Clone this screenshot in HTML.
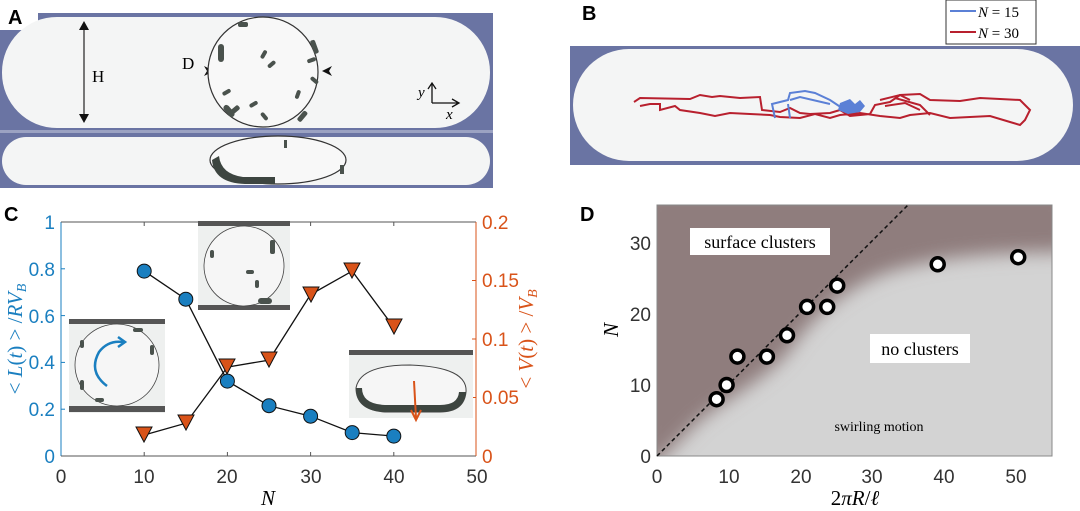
<!DOCTYPE html>
<html><head><meta charset="utf-8"><style>
html,body{margin:0;padding:0;background:#fff}
svg{display:block}
text{font-family:"Liberation Sans",sans-serif}
.s{font-family:"Liberation Serif",serif}
</style></head><body>
<svg width="1080" height="511" viewBox="0 0 1080 511" xmlns="http://www.w3.org/2000/svg">
<defs>
<filter id="bl" x="-20%" y="-20%" width="140%" height="140%"><feGaussianBlur stdDeviation="9"/></filter>
<clipPath id="cd"><rect x="657" y="205" width="395" height="251"/></clipPath>
</defs>
<!-- Panel A -->
<rect x="0" y="13" width="493" height="175" fill="#6a74a3"/>
<rect x="0" y="0" width="38" height="30" fill="#fff"/>
<text x="8" y="24" font-size="20" font-weight="bold">A</text>
<rect x="2" y="17" width="488" height="111" rx="55" fill="#f4f5f5"/>
<rect x="0" y="130" width="493" height="3" fill="#9ba2c2"/>
<rect x="2" y="137" width="488" height="48" rx="24" fill="#f4f5f5"/>
<line x1="84" y1="24" x2="84" y2="120" stroke="#222" stroke-width="1.2"/>
<path d="M79 30 L84 21 L89 30 Z M79 114 L84 123 L89 114 Z" fill="#111"/>
<text x="92" y="82" class="s" font-size="17">H</text>
<text x="182" y="69" class="s" font-size="17">D</text>
<path d="M204 66 L214 71 L204 76 L207 71Z M332 66 L322 71 L332 76 L329 71Z" fill="#111"/>
<circle cx="263" cy="72" r="55" fill="#f8f8f8" stroke="#333" stroke-width="1.2"/>
<g fill="#4a524d">
<rect x="262" y="50" width="4" height="9" rx="2" transform="rotate(30 264 54)"/>
<rect x="270" y="60" width="4" height="9" rx="2" transform="rotate(50 272 64)"/>
<rect x="310" y="56" width="4" height="9" rx="2" transform="rotate(70 312 60)"/>
<rect x="225" y="88" width="4" height="9" rx="2" transform="rotate(60 227 92)"/>
<rect x="296" y="90" width="4" height="9" rx="2" transform="rotate(20 298 94)"/>
<rect x="252" y="100" width="4" height="9" rx="2" transform="rotate(60 254 104)"/>
<rect x="262" y="112" width="4" height="9" rx="2" transform="rotate(-40 264 116)"/>
<rect x="232" y="104" width="5" height="12" rx="2" transform="rotate(50 234 110)"/>
<rect x="218" y="44" width="6" height="18" rx="3"/>
<rect x="312" y="40" width="5" height="14" rx="2" transform="rotate(-20 314 47)"/>
<rect x="300" y="110" width="5" height="12" rx="2" transform="rotate(40 302 116)"/>
<rect x="238" y="22" width="10" height="5" rx="2"/>
<rect x="312" y="76" width="4" height="9" rx="2" transform="rotate(-50 314 80)"/>
<rect x="226" y="104" width="6" height="14" rx="3" transform="rotate(-40 229 111)"/>
</g>
<ellipse cx="278" cy="160" rx="68" ry="24" fill="#f8f8f8" stroke="#333" stroke-width="1.2"/>
<path d="M212 160 Q214 183 245 184 L275 184 L275 177 L243 177 Q221 174 219 156 Z" fill="#3d4540"/>
<rect x="284" y="140" width="3" height="8" fill="#4a524d"/>
<rect x="340" y="165" width="4" height="9" fill="#4a524d"/>
<text x="418" y="97" class="s" font-style="italic" font-size="15">y</text>
<path d="M432 103 L432 84 M428 89 L432 83 L436 89 M432 103 L458 103 M452 99 L459 103 L452 107" stroke="#111" stroke-width="1.3" fill="none"/>
<text x="446" y="119" class="s" font-style="italic" font-size="15">x</text>

<!-- Panel B -->
<text x="582" y="20" font-size="20" font-weight="bold">B</text>
<rect x="946" y="0" width="90" height="44" fill="#fff" stroke="#333"/>
<line x1="950" y1="11" x2="976" y2="11" stroke="#5b80d6" stroke-width="2"/>
<line x1="950" y1="32" x2="976" y2="32" stroke="#b8202e" stroke-width="2"/>
<text x="978" y="17" class="s" font-size="15"><tspan font-style="italic">N</tspan> = 15</text>
<text x="978" y="38" class="s" font-size="15"><tspan font-style="italic">N</tspan> = 30</text>
<rect x="570" y="46" width="510" height="119" fill="#6a74a3"/>
<rect x="573" y="49" width="500" height="112" rx="56" fill="#f4f5f5"/>
<path d="M634 102 L640 98 L690 99 L700 95 L712 97 L720 96 L740 98 L760 97 L762 110 L780 112 L790 108 L800 113 L810 114 L830 113 L840 110 L850 116 L870 114 L875 105 L890 102 L900 95 L920 94 L930 100 L960 101 L980 98 L1000 99 L1020 100 L1030 110 L1025 120 L1020 125 L1010 122 L990 116 L970 117 L950 118 L930 113 L910 115 L900 118 L880 116 L860 113 L840 115 L830 118 L815 114 L800 118 L780 117 L770 115 L750 114 L730 113 L715 116 L700 113 L680 110 L675 106 L660 110 L660 104 L650 104 L640 106" fill="none" stroke="#b8202e" stroke-width="2"/>
<path d="M895 98 L920 105 L930 115 M880 100 L900 95 L910 100 M885 106 L905 103 L920 110" fill="none" stroke="#b8202e" stroke-width="2"/>
<path d="M775 118 L772 104 L788 100 L790 93 L805 91 L815 93 L830 100 L842 108 M790 100 L800 97 L830 104 M788 104 L790 118" fill="none" stroke="#5b80d6" stroke-width="2"/>
<path d="M840 103 L850 99 L855 104 L860 100 L865 106 L860 112 L848 114 L838 110 Z" fill="#5b80d6"/>

<!-- Panel C -->
<text x="4" y="221" font-size="20" font-weight="bold">C</text>
<line x1="61" y1="222" x2="61" y2="456" stroke="#1a7fc0"/>
<line x1="61" y1="456" x2="476" y2="456" stroke="#555"/>
<line x1="61" y1="222" x2="476" y2="222" stroke="#555"/>
<line x1="476" y1="222" x2="476" y2="456" stroke="#d95319"/>
<g stroke="#555"><line x1="144.2" y1="456" x2="144.2" y2="452"/><line x1="227.4" y1="456" x2="227.4" y2="452"/><line x1="310.6" y1="456" x2="310.6" y2="452"/><line x1="393.8" y1="456" x2="393.8" y2="452"/>
<line x1="144.2" y1="222" x2="144.2" y2="226"/><line x1="227.4" y1="222" x2="227.4" y2="226"/><line x1="310.6" y1="222" x2="310.6" y2="226"/><line x1="393.8" y1="222" x2="393.8" y2="226"/></g>
<g stroke="#1a7fc0"><line x1="61" y1="409.2" x2="65" y2="409.2"/><line x1="61" y1="362.4" x2="65" y2="362.4"/><line x1="61" y1="315.6" x2="65" y2="315.6"/><line x1="61" y1="268.8" x2="65" y2="268.8"/></g>
<g stroke="#d95319"><line x1="476" y1="397.5" x2="472" y2="397.5"/><line x1="476" y1="339" x2="472" y2="339"/><line x1="476" y1="280.5" x2="472" y2="280.5"/></g>
<g font-size="19" fill="#1a7fc0" text-anchor="end">
<text x="55" y="463">0</text><text x="55" y="416">0.2</text><text x="55" y="369">0.4</text><text x="55" y="323">0.6</text><text x="55" y="276">0.8</text><text x="55" y="229">1</text></g>
<g font-size="19" fill="#d95319"><text x="482" y="463">0</text><text x="482" y="404">0.05</text><text x="482" y="346">0.1</text><text x="482" y="287">0.15</text><text x="482" y="229">0.2</text></g>
<g font-size="19" fill="#333" text-anchor="middle"><text x="61" y="483">0</text><text x="144" y="483">10</text><text x="227" y="483">20</text><text x="311" y="483">30</text><text x="394" y="483">40</text><text x="477" y="483">50</text></g>
<text x="268" y="505" class="s" font-size="21" font-style="italic" text-anchor="middle">N</text>
<text transform="translate(22 339) rotate(-90)" class="s" font-size="21" fill="#1a7fc0" text-anchor="middle">&lt; <tspan font-style="italic">L</tspan>(<tspan font-style="italic">t</tspan>) &gt; /<tspan font-style="italic">RV<tspan font-size="14" dy="4">B</tspan></tspan></text>
<text transform="translate(533 339) rotate(-90)" class="s" font-size="21" fill="#d95319" text-anchor="middle">&lt; <tspan font-style="italic">V</tspan>(<tspan font-style="italic">t</tspan>) &gt; /<tspan font-style="italic">V<tspan font-size="14" dy="4">B</tspan></tspan></text>
<!-- insets -->
<rect x="69" y="320" width="96" height="93" fill="#eef0ef"/>
<rect x="69" y="319" width="96" height="5" fill="#555"/><rect x="69" y="406" width="96" height="6" fill="#555"/>
<ellipse cx="117" cy="365" rx="42" ry="41" fill="#f6f6f6" stroke="#444" stroke-width="0.8"/>
<g fill="#4a524d"><rect x="133" y="328" width="10" height="4" rx="2"/><rect x="150" y="345" width="4" height="10" rx="2"/><rect x="80" y="380" width="4" height="10" rx="2"/><rect x="95" y="398" width="9" height="4" rx="2"/><rect x="80" y="340" width="4" height="8" rx="2"/></g>
<path d="M107 386 Q88 372 99 352 Q108 340 123 342" fill="none" stroke="#1a7fc0" stroke-width="2.5"/><path d="M118 337 L125 342 L118 347" fill="none" stroke="#1a7fc0" stroke-width="2.5"/>
<rect x="198" y="223" width="92" height="86" fill="#eef0ef"/>
<rect x="198" y="221" width="92" height="5" fill="#555"/><rect x="198" y="305" width="92" height="5" fill="#555"/>
<ellipse cx="244" cy="266" rx="40" ry="40" fill="#f6f6f6" stroke="#444" stroke-width="0.8" transform="rotate(-20 244 266)"/>
<g fill="#4a524d"><rect x="210" y="250" width="4" height="8" rx="2"/><rect x="246" y="270" width="8" height="4" rx="2"/><rect x="255" y="280" width="4" height="8" rx="2"/><rect x="258" y="298" width="14" height="6" rx="3"/><rect x="270" y="240" width="5" height="14" rx="2"/></g>
<rect x="349" y="352" width="124" height="66" fill="#eef0ef"/>
<rect x="349" y="350" width="124" height="5" fill="#555"/>
<path d="M356 388 Q360 365 410 365 Q468 367 466 392 Q464 412 440 412 L385 412 Q356 410 356 388Z" fill="#f6f6f6" stroke="#444" stroke-width="1"/>
<path d="M356 388 Q356 411 385 412 L440 412 Q464 412 466 392 L459 392 Q458 405 440 405 L385 405 Q362 404 362 388 Z" fill="#3d4540"/>
<path d="M414 381 L416 418 M411 410 L416 420 L421 410" fill="none" stroke="#d95319" stroke-width="2"/>
<!-- series -->
<polyline points="144.2,435 185.8,423.2 227.4,367.1 269,360.1 310.6,294.5 352.2,271.1 393.8,327.3" fill="none" stroke="#111" stroke-width="1.3"/>
<g fill="#d95319" stroke="#111" stroke-width="1">
<path d="M136 427 L152 427 L144 442Z"/><path d="M178 415 L194 415 L186 430Z"/><path d="M219 359 L235 359 L227 374Z"/><path d="M261 352 L277 352 L269 367Z"/><path d="M303 287 L319 287 L311 302Z"/><path d="M344 263 L360 263 L352 278Z"/><path d="M386 319 L402 319 L394 334Z"/></g>
<polyline points="144.2,271.1 185.8,299.2 227.4,381.1 269,405.7 310.6,416.2 352.2,432.6 393.8,436.1" fill="none" stroke="#111" stroke-width="1.3"/>
<g fill="#1a7fc0" stroke="#111" stroke-width="1">
<circle cx="144.2" cy="271.1" r="7"/><circle cx="185.8" cy="299.2" r="7"/><circle cx="227.4" cy="381.1" r="7"/><circle cx="269" cy="405.7" r="7"/><circle cx="310.6" cy="416.2" r="7"/><circle cx="352.2" cy="432.6" r="7"/><circle cx="393.8" cy="436.1" r="7"/></g>

<!-- Panel D -->
<text x="580" y="221" font-size="20" font-weight="bold">D</text>
<rect x="657" y="205" width="395" height="251" fill="#d3d3d3"/>
<g clip-path="url(#cd)"><path d="M640 470 L640 190 L1070 190 L1070 252 C1000 252 930 256 880 275 C840 292 810 320 790 350 C770 375 740 390 700 420 L660 460 Z" fill="#8f7d7d" filter="url(#bl)"/></g>
<rect x="657" y="205" width="395" height="251" fill="none" stroke="#888"/>
<line x1="657" y1="456" x2="908" y2="205" stroke="#111" stroke-width="1.5" stroke-dasharray="4,3"/>
<rect x="690" y="228" width="140" height="27" fill="#fff"/>
<text x="760" y="248" class="s" font-size="18" text-anchor="middle">surface clusters</text>
<rect x="870" y="334" width="100" height="29" fill="#fff"/>
<text x="920" y="355" class="s" font-size="18" text-anchor="middle">no clusters</text>
<text x="879" y="431" class="s" font-size="14" text-anchor="middle">swirling motion</text>
<g fill="#fff" stroke="#000" stroke-width="3.5">
<circle cx="716.6" cy="399.2" r="6.5"/><circle cx="726.6" cy="385" r="6.5"/><circle cx="737.4" cy="356.6" r="6.5"/><circle cx="766.9" cy="356.6" r="6.5"/><circle cx="787" cy="335.3" r="6.5"/><circle cx="807.1" cy="306.9" r="6.5"/><circle cx="827.2" cy="306.9" r="6.5"/><circle cx="837.2" cy="285.6" r="6.5"/><circle cx="937.7" cy="264.3" r="6.5"/><circle cx="1018.2" cy="257.2" r="6.5"/></g>
<g font-size="19" fill="#333" text-anchor="end"><text x="651" y="463">0</text><text x="651" y="392">10</text><text x="651" y="321">20</text><text x="651" y="250">30</text></g>
<g font-size="19" fill="#333" text-anchor="middle"><text x="657" y="483">0</text><text x="729" y="483">10</text><text x="801" y="483">20</text><text x="872" y="483">30</text><text x="944" y="483">40</text><text x="1016" y="483">50</text></g>
<text transform="translate(618 330) rotate(-90)" class="s" font-size="21" font-style="italic" text-anchor="middle">N</text>
<text x="855" y="505" class="s" font-size="21" text-anchor="middle">2<tspan font-style="italic">πR</tspan>/<tspan font-style="italic">ℓ</tspan></text>
</svg>
</body></html>
